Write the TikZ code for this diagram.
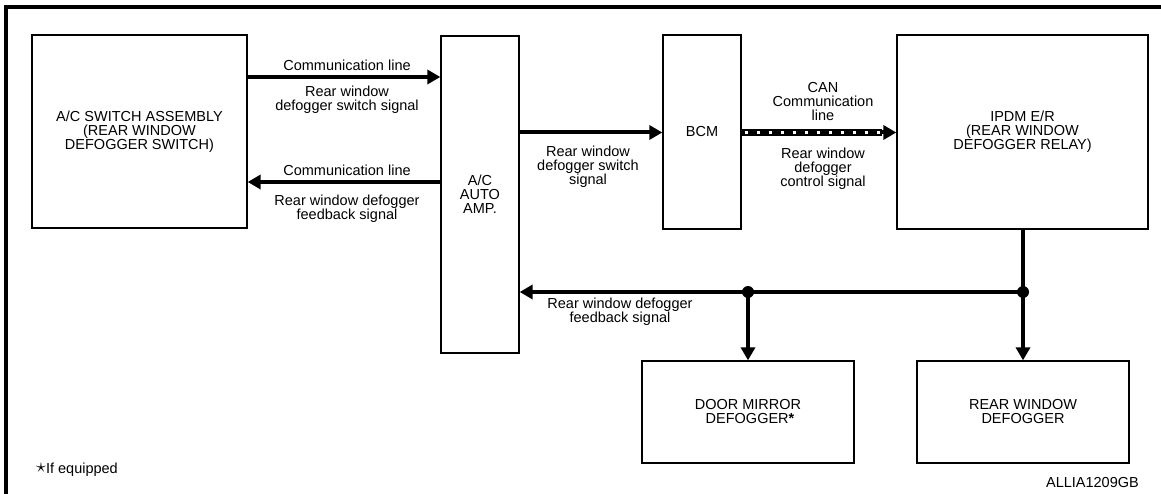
\documentclass[tikz,border=0pt]{standalone}
\usepackage{fontspec}
\setmainfont{Liberation Sans}
\usetikzlibrary{arrows.meta}
\tikzset{
  box/.style={draw, line width=1.3pt, inner sep=0pt, align=center, font=\fs},
  lbl/.style={inner sep=0pt, align=center, font=\fs},
  arr/.style={line width=4pt, -{Triangle[length=13pt,width=14pt]}},
  wire/.style={line width=4pt},
  dot/.style={circle, fill=black, inner sep=0pt, minimum size=12pt},
  frame/.style={line width=4pt}
}
\newcommand{\fs}{\fontsize{14.5}{14}\selectfont}
\begin{document}
\begin{tikzpicture}[x=1pt,y=-1pt]
\useasboundingbox (0,0) rectangle (1161,494);
% frame (top and left)
\draw[frame] (6,494) -- (6,7) -- (1161,7);

% boxes
\node[box, minimum width=215pt, minimum height=193pt] (sw) at (139.5,131.5)
  {A/C SWITCH ASSEMBLY\\(REAR WINDOW\\DEFOGGER SWITCH)};
\node[box, minimum width=78pt, minimum height=317pt] (amp) at (480,194.5)
  {A/C\\AUTO\\AMP.};
\node[box, minimum width=78pt, minimum height=194pt] (bcm) at (702,132) {BCM};
\node[box, minimum width=251pt, minimum height=194pt] (ipdm) at (1022.5,132)
  {IPDM E/R\\(REAR WINDOW\\DEFOGGER RELAY)};
\node[box, minimum width=212pt, minimum height=102pt] (dm) at (748,412)
  {DOOR MIRROR\\\ DEFOGGER\textbf{*}};
\node[box, minimum width=212pt, minimum height=102pt] (rw) at (1023,412)
  {REAR WINDOW\\DEFOGGER};

% helper coordinates
\coordinate (y77) at (0,77);
\coordinate (y182) at (0,182);
\coordinate (y132) at (0,132.5);
\coordinate (y292) at (0,292);

% switch <-> amp
\draw[arr] (sw.east |- y77) -- (amp.west |- y77);
\draw[arr] (amp.west |- y182) -- (sw.east |- y182);
\node[lbl] (l1) at (347,65) {Communication line};
\node[lbl] (l2) at (347,100) {Rear window\\defogger switch signal};
\node[lbl] (l3) at (347,170) {Communication line};
\node[lbl] (l4) at (347,209) {Rear window defogger\\feedback signal};

% amp -> bcm
\draw[arr] (amp.east |- y132) -- (bcm.west |- y132);
\node[lbl] (l5) at (588,167) {Rear window\\defogger switch\\signal};

% bcm -> ipdm CAN
\draw[line width=6.5pt] (bcm.east |- y132) -- ([xshift=-14pt]ipdm.west |- y132);
\draw[white, line width=2.4pt, dash pattern=on 3.5pt off 8.5pt, dash phase=-3pt]
  (bcm.east |- y132) -- ([xshift=-16pt]ipdm.west |- y132);
\draw[arr] ([xshift=-16pt]ipdm.west |- y132) -- (ipdm.west |- y132);
\node[lbl] (l6) at (823,102) {CAN\\Communication\\line};
\node[lbl] (l7) at (823,169) {Rear window\\defogger\\control signal};

% feedback network
\coordinate (j2) at (rw.north |- y292);
\coordinate (j1) at (dm.north |- y292);
\draw[wire] (ipdm.south -| rw.north) -- (j2);
\draw[arr] (j2) -- (rw.north);
\draw[arr] (j2) -- (amp.east |- y292);
\draw[arr] (j1) -- (dm.north);
\node[dot] (d1) at (j1) {};
\node[dot] (d2) at (j2) {};
\node[lbl] (l8) at (620,312) {Rear window defogger\\feedback signal};

% footnotes
\node[lbl, anchor=base west] (fn) at (36,473) {\raisebox{0.5pt}{\scalebox{1.4}{$\star$}}If equipped};
\node[lbl, anchor=base east] (code) at (1139,487) {ALLIA1209GB};
\end{tikzpicture}
\end{document}
